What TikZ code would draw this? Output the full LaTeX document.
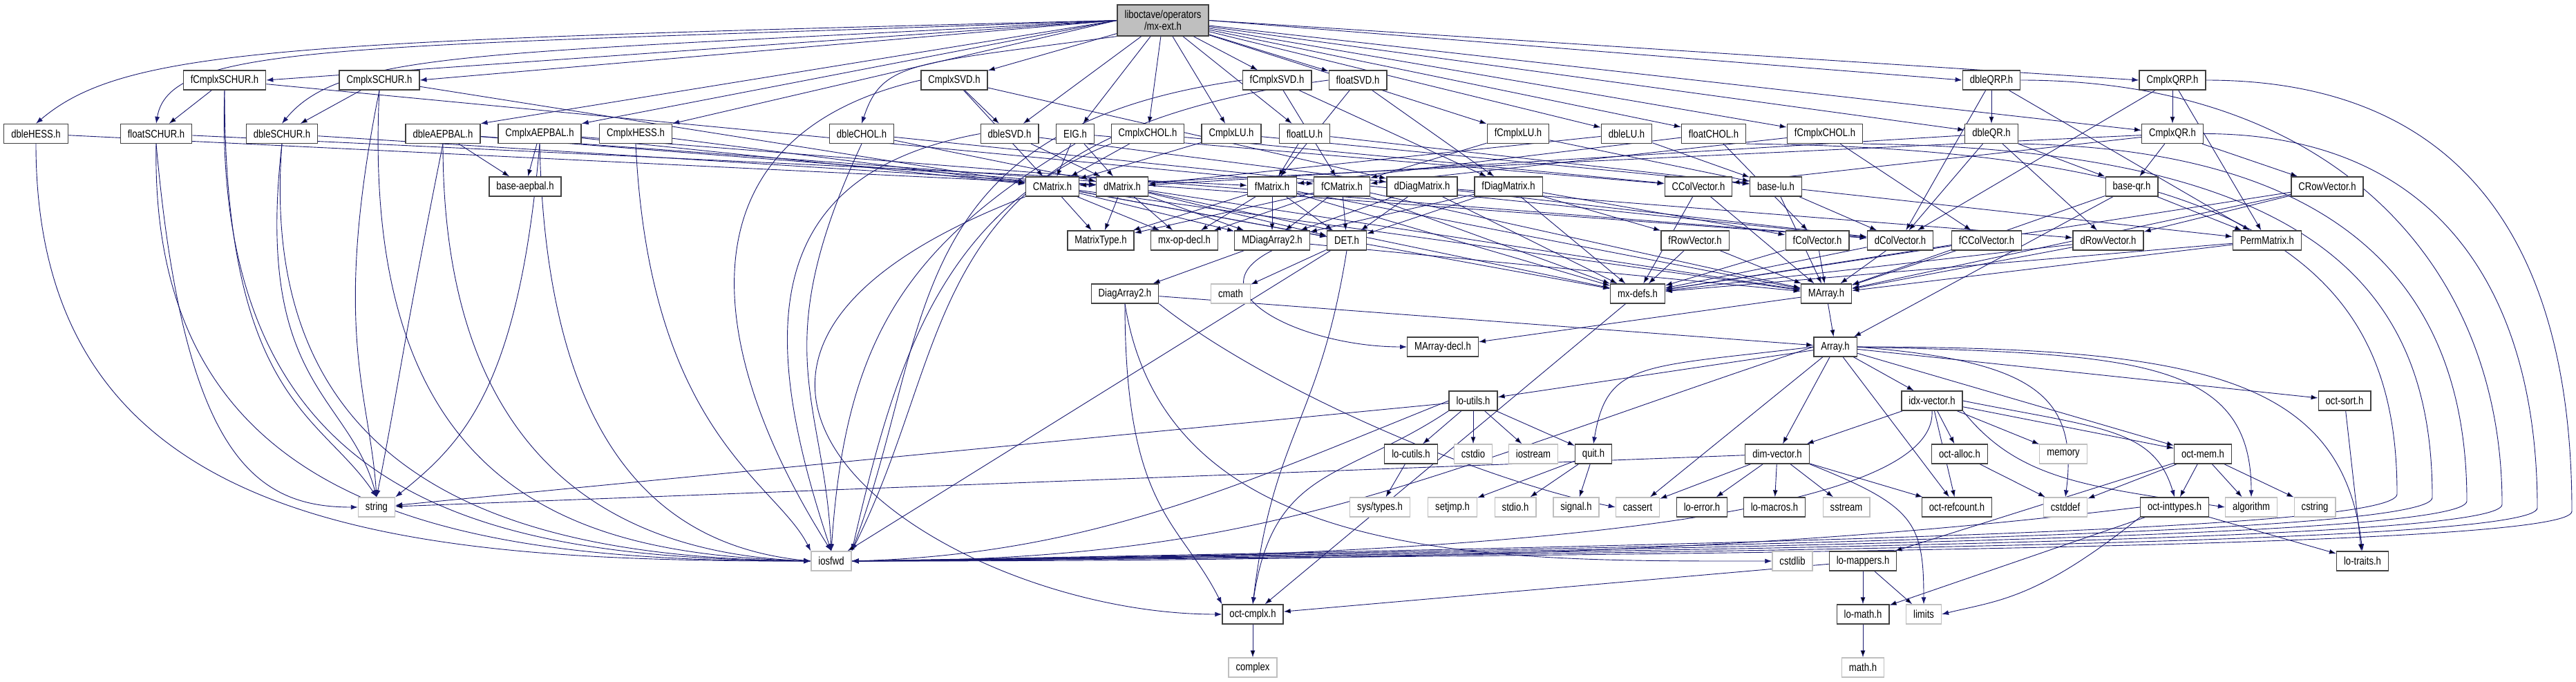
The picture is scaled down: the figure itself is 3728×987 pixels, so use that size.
\documentclass[tikz,border=0pt]{standalone}
\usepackage{fontspec}
\setmainfont{Liberation Sans}[FakeStretch=0.82]
\usetikzlibrary{arrows.meta,backgrounds,positioning}
\definecolor{edgeblue}{HTML}{191970}
\tikzset{%
	hdr/.style      = {draw=black!75, line width=1.3pt, rectangle, fill=white, minimum height=28pt, inner xsep=10.5pt, inner ysep=0pt, font=\fontsize{16}{18}\selectfont}, % header file
	sys/.style      = {hdr, draw=black!25}, % system header
	topfile/.style  = {hdr, fill=black!25, align=center, minimum height=45pt, font=\fontsize{16}{16.5}\selectfont}, % graph root
	dep/.style      = {draw=edgeblue, line width=0.9pt, -{Latex[length=10pt,width=7pt]}}, % include
	waypoint/.style = {coordinate},
}

\begin{document}
\begin{tikzpicture}[x=1pt, y=1pt]
	\useasboundingbox (0,0) rectangle (3728,-987);
	% rank 0
	\node[topfile] (root) at (1683,-29.5) {liboctave/operators\\/mx-ext.h};
	% rank 1
	\node[hdr] (fcschur) at (325,-116) {fCmplxSCHUR.h};
	\node[hdr] (cschur) at (549,-116) {CmplxSCHUR.h};
	\node[hdr] (csvd) at (1381,-116) {CmplxSVD.h};
	\node[hdr] (fcsvd) at (1848,-116) {fCmplxSVD.h};
	\node[hdr] (fsvd) at (1965,-116) {floatSVD.h};
	\node[hdr] (dqrp) at (2882,-116) {dbleQRP.h};
	\node[hdr] (cqrp) at (3144,-116) {CmplxQRP.h};
	% rank 2
	\node[hdr] (dhess) at (52,-193.5) {dbleHESS.h};
	\node[hdr] (fschur) at (226,-193.5) {floatSCHUR.h};
	\node[hdr] (dschur) at (408,-193.5) {dbleSCHUR.h};
	\node[hdr] (daep) at (641,-193.5) {dbleAEPBAL.h};
	\node[hdr] (caep) at (781,-193.5) {CmplxAEPBAL.h};
	\node[hdr] (chess) at (920,-193.5) {CmplxHESS.h};
	\node[hdr] (dchol) at (1247,-193.5) {dbleCHOL.h};
	\node[hdr] (dsvd) at (1461,-193.5) {dbleSVD.h};
	\node[hdr] (eig) at (1556,-193.5) {EIG.h};
	\node[hdr] (cchol) at (1661,-193.5) {CmplxCHOL.h};
	\node[hdr] (clu) at (1782,-193.5) {CmplxLU.h};
	\node[hdr] (flu) at (1888,-193.5) {floatLU.h};
	\node[hdr] (fclu) at (2197,-193.5) {fCmplxLU.h};
	\node[hdr] (dlu) at (2354,-193.5) {dbleLU.h};
	\node[hdr] (fchol) at (2480,-193.5) {floatCHOL.h};
	\node[hdr] (fcchol) at (2641,-193.5) {fCmplxCHOL.h};
	\node[hdr] (dqr) at (2882,-193.5) {dbleQR.h};
	\node[hdr] (cqr) at (3144,-193.5) {CmplxQR.h};
	% rank 3
	\node[hdr] (baseaep) at (760,-270) {base-aepbal.h};
	\node[hdr] (cmat) at (1523,-270) {CMatrix.h};
	\node[hdr] (dmat) at (1624,-270) {dMatrix.h};
	\node[hdr] (fmat) at (1841,-270) {fMatrix.h};
	\node[hdr] (fcmat) at (1942,-270) {fCMatrix.h};
	\node[hdr] (ddiag) at (2058,-270) {dDiagMatrix.h};
	\node[hdr] (fdiag) at (2183,-270) {fDiagMatrix.h};
	\node[hdr] (ccol) at (2458,-270) {CColVector.h};
	\node[hdr] (baselu) at (2570,-270) {base-lu.h};
	\node[hdr] (baseqr) at (3085,-270) {base-qr.h};
	\node[hdr] (crow) at (3368,-270) {CRowVector.h};
	% rank 4
	\node[hdr] (mtype) at (1593,-348) {MatrixType.h};
	\node[hdr] (mxop) at (1714,-348) {mx-op-decl.h};
	\node[hdr] (mdiag) at (1841,-348) {MDiagArray2.h};
	\node[hdr] (det) at (1949,-348) {DET.h};
	\node[hdr] (frow) at (2453,-348) {fRowVector.h};
	\node[hdr] (fcol) at (2630,-348) {fColVector.h};
	\node[hdr] (dcol) at (2750,-348) {dColVector.h};
	\node[hdr] (fccol) at (2875,-348) {fCColVector.h};
	\node[hdr] (drow) at (3051,-348) {dRowVector.h};
	\node[hdr] (perm) at (3281,-348) {PermMatrix.h};
	% rank 5
	\node[hdr] (diag2) at (1628,-425) {DiagArray2.h};
	\node[sys] (cmath) at (1781,-425) {cmath};
	\node[hdr] (mxdefs) at (2370,-425) {mx-defs.h};
	\node[hdr] (marray) at (2643,-425) {MArray.h};
	% rank 6
	\node[hdr] (mdecl) at (2088,-502) {MArray-decl.h};
	\node[hdr] (array) at (2656,-502) {Array.h};
	% rank 7
	\node[hdr] (loutils) at (2132,-580) {lo-utils.h};
	\node[hdr] (idxvec) at (2796,-580) {idx-vector.h};
	\node[hdr] (octsort) at (3393,-580) {oct-sort.h};
	% rank 8
	\node[hdr] (locutils) at (2042,-657) {lo-cutils.h};
	\node[sys] (cstdio) at (2132,-657) {cstdio};
	\node[sys] (iostream) at (2219,-657) {iostream};
	\node[hdr] (quit) at (2306,-657) {quit.h};
	\node[hdr] (dimvec) at (2572,-657) {dim-vector.h};
	\node[hdr] (octalloc) at (2836,-657) {oct-alloc.h};
	\node[sys] (memory) at (2986,-657) {memory};
	\node[hdr] (octmem) at (3188,-657) {oct-mem.h};
	% rank 9
	\node[sys] (string) at (545,-734) {string};
	\node[sys] (systypes) at (1997,-734) {sys/types.h};
	\node[sys] (setjmp) at (2102,-734) {setjmp.h};
	\node[sys] (stdio) at (2193,-734) {stdio.h};
	\node[sys] (signal) at (2281,-734) {signal.h};
	\node[sys] (cassert) at (2370,-734) {cassert};
	\node[hdr] (loerror) at (2463,-734) {lo-error.h};
	\node[hdr] (lomacros) at (2568,-734) {lo-macros.h};
	\node[sys] (sstream) at (2672,-734) {sstream};
	\node[hdr] (refcount) at (2832,-734) {oct-refcount.h};
	\node[sys] (cstddef) at (2989,-734) {cstddef};
	\node[hdr] (inttypes) at (3147,-734) {oct-inttypes.h};
	\node[sys] (algorithm) at (3258,-734) {algorithm};
	\node[sys] (cstring) at (3350,-734) {cstring};
	% rank 10
	\node[sys] (iosfwd) at (1203,-812) {iosfwd};
	\node[sys] (cstdlib) at (2594,-812) {cstdlib};
	\node[hdr] (lomappers) at (2696,-812) {lo-mappers.h};
	\node[hdr] (lotraits) at (3419,-812) {lo-traits.h};
	% rank 11
	\node[hdr] (cmplx) at (1813,-889) {oct-cmplx.h};
	\node[hdr] (lomath) at (2696,-889) {lo-math.h};
	\node[sys] (limits) at (2784,-889) {limits};
	% rank 12
	\node[sys] (complex) at (1813,-966) {complex};
	\node[sys] (mathh) at (2696,-966) {math.h};
	% turning points on the right
	\node[waypoint] (w1) at (3469,-715) {};
	\node[waypoint] (w2) at (3520,-720) {};
	\node[waypoint] (w3) at (3570,-725) {};
	\node[waypoint] (w4) at (3621,-730) {};
	\node[waypoint] (w5) at (3672,-735) {};
	\node[waypoint] (w6) at (3722,-740) {};

	\begin{scope}[on background layer]
	% root
	\draw[dep] (root.west) .. controls +(-1200,-30) and +(130,110) .. (dhess.north);
	\draw[dep] (root.west) .. controls +(-1100,-40) and +(20,120) .. (fschur.north);
	\draw[dep] (root.west) .. controls +(-900,-50) and +(90,110) .. (dschur.north);
	\draw[dep] (root.west) -- (fcschur.east);
	\draw[dep] (root.west) -- (cschur.east);
	\draw[dep] (root.west) -- (daep.north east);
	\draw[dep] (root.west) -- (caep.north east);
	\draw[dep] (root.west) -- (chess.north east);
	\draw[dep] (root.south west) .. controls +(-300,-40) and +(30,90) .. (dchol.north);
	\draw[dep] (root) edge (csvd) edge (dsvd) edge (eig) edge (cchol) edge (clu) edge (flu) edge (fcsvd) edge (fsvd) edge (fclu) edge (dlu) edge (fchol) edge (fcchol) edge (dqr) edge (cqr);
	\draw[dep] (root.east) -- (dqrp.west);
	\draw[dep] (root.east) -- (cqrp.west);
	% decompositions
	\draw[dep] (fcschur) edge (fschur) edge (fcmat);
	\draw[dep] (cschur) edge (dschur) edge (cmat);
	\draw[dep] (csvd) edge (dsvd) edge (cmat) edge (ddiag);
	\draw[dep] (fcsvd) edge (fcmat) edge (fdiag);
	\draw[dep] (fsvd) edge (fmat) edge (fdiag);
	\draw[dep] (dqrp) edge (dqr) edge (dcol) edge (perm);
	\draw[dep] (cqrp) edge (cqr) edge (dcol) edge (perm);
	\draw[dep] (dhess) edge (dmat);
	\draw[dep] (fschur) edge (fmat);
	\draw[dep] (dschur) edge (dmat);
	\draw[dep] (daep) edge (baseaep) edge (dmat) edge (dcol);
	\draw[dep] (caep) edge (baseaep) edge (cmat) edge (dcol);
	\draw[dep] (chess) edge (cmat);
	\draw[dep] (dchol) edge (dmat) edge (dcol);
	\draw[dep] (dsvd) edge (dmat) edge (ddiag);
	\draw[dep] (eig) edge (cmat) edge (dmat) edge (ccol);
	\draw[dep] (cchol) edge (cmat) edge (ccol);
	\draw[dep] (clu) edge (cmat) edge (baselu);
	\draw[dep] (flu) edge (fmat) edge (baselu);
	\draw[dep] (fclu) edge (fcmat) edge (baselu);
	\draw[dep] (dlu) edge (dmat) edge (baselu);
	\draw[dep] (fchol) edge (fmat) edge (fcol);
	\draw[dep] (fcchol) edge (fcmat) edge (fccol);
	\draw[dep] (dqr) edge (dmat) edge (dcol) edge (drow) edge (baseqr);
	\draw[dep] (cqr) edge (cmat) edge (ccol) edge (crow) edge (baseqr);
	% to iosfwd
	\draw[dep] (dhess.south) .. controls +(0,-560) and +(-600,0) .. (iosfwd.west);
	\draw[dep] (fschur.south) .. controls +(-10,-530) and +(-520,0) .. (iosfwd.west);
	\draw[dep] (fcschur.south) .. controls +(-20,-610) and +(-450,5) .. (iosfwd.west);
	\draw[dep] (dschur.south) .. controls +(-40,-520) and +(-380,5) .. (iosfwd.west);
	\draw[dep] (cschur.south) .. controls +(-30,-600) and +(-320,10) .. (iosfwd.west);
	\draw[dep] (daep.south) .. controls +(0,-480) and +(-260,10) .. (iosfwd.west);
	\draw[dep] (caep.south) .. controls +(10,-460) and +(-200,20) .. (iosfwd.west);
	\draw[dep] (chess.south) .. controls +(20,-420) and +(-50,100) .. (iosfwd.north west);
	\draw[dep] (dchol.south) .. controls +(-140,-300) and +(-10,220) .. (iosfwd.north);
	\draw[dep] (csvd.west) .. controls +(-350,-80) and +(-190,300) .. (iosfwd.north);
	\draw[dep] (dsvd.west) .. controls +(-330,-60) and +(-100,300) .. (iosfwd.north);
	\draw[dep] (eig.south) .. controls +(-250,-150) and +(20,300) .. (iosfwd.north);
	\draw[dep] (cchol.south west) .. controls +(-250,-100) and +(60,260) .. (iosfwd.north east);
	\draw[dep] (fcsvd.west) .. controls +(-500,-70) and +(120,320) .. (iosfwd.north east);
	\draw[dep] (fsvd.west) .. controls +(-600,-80) and +(160,320) .. (iosfwd.north east);
	\draw[dep] (fchol.south east) .. controls +(780,-8) and +(0,300) .. (w1) .. controls +(0,-50) and +(1400,25) .. (iosfwd.east);
	\draw[dep] (fcchol.south east) .. controls +(660,-8) and +(0,300) .. (w2) .. controls +(0,-50) and +(1400,22) .. (iosfwd.east);
	\draw[dep] (dqr.south east) .. controls +(480,-8) and +(0,300) .. (w3) .. controls +(0,-50) and +(1400,19) .. (iosfwd.east);
	\draw[dep] (dqrp.east) .. controls +(450,0) and +(0,350) .. (w4) .. controls +(0,-50) and +(1400,16) .. (iosfwd.east);
	\draw[dep] (cqr.east) .. controls +(350,0) and +(0,300) .. (w5) .. controls +(0,-50) and +(1400,13) .. (iosfwd.east);
	\draw[dep] (cqrp.east) .. controls +(400,0) and +(0,350) .. (w6) .. controls +(0,-50) and +(1400,10) .. (iosfwd.east);
	% to string
	\draw[dep] (fcschur.south) .. controls +(0,-450) and +(-80,120) .. (string.north);
	\draw[dep] (fschur.south) .. controls +(40,-450) and +(-150,0) .. (string.west);
	\draw[dep] (dschur.south) .. controls +(-40,-350) and +(-40,150) .. (string.north);
	\draw[dep] (cschur.south) .. controls +(-70,-350) and +(-10,150) .. (string.north);
	\draw[dep] (daep.south) .. controls +(-60,-300) and +(30,150) .. (string.north);
	\draw[dep] (caep.south) .. controls +(-30,-350) and +(100,80) .. (string.north east);
	% matrices and vectors
	\draw[dep] (cmat) edge (mtype) edge (mxop) edge (mdiag) edge (det) edge (mxdefs) edge (marray);
	\draw[dep] (dmat) edge (mtype) edge (mxop) edge (mdiag) edge (det) edge (mxdefs) edge (marray);
	\draw[dep] (fmat) edge (mtype) edge (mxop) edge (mdiag) edge (det) edge (mxdefs) edge (marray);
	\draw[dep] (fcmat) edge (mtype) edge (mxop) edge (mdiag) edge (det) edge (mxdefs) edge (marray);
	\draw[dep] (ddiag) edge (mdiag) edge (det) edge (dcol) edge (drow) edge (mxdefs);
	\draw[dep] (fdiag) edge (mdiag) edge (det) edge (fcol) edge (frow) edge (mxdefs);
	\draw[dep] (ccol) edge (marray) edge (mxdefs);
	\draw[dep] (baselu) edge (marray) edge (dcol) edge (perm);
	\draw[dep] (baseqr) edge (perm) edge (marray) edge (array);
	\draw[dep] (crow) edge (drow) edge (marray) edge (mxdefs);
	\draw[dep] (frow) edge (marray) edge (mxdefs);
	\draw[dep] (fcol) edge (marray) edge (mxdefs);
	\draw[dep] (dcol) edge (marray) edge (mxdefs);
	\draw[dep] (fccol) edge (marray) edge (mxdefs);
	\draw[dep] (drow) edge (marray) edge (mxdefs);
	\draw[dep] (perm) edge (marray) edge (mxdefs);
	\draw[dep] (mdiag) edge (diag2) edge (marray);
	\draw[dep] (mdiag.south) .. controls +(-120,-60) and +(-150,0) .. (mdecl.west);
	\draw[dep] (diag2) edge (array);
	\draw[dep] (diag2.south east) .. controls +(150,-120) and +(-200,40) .. (cassert.west);
	\draw[dep] (diag2.south) .. controls +(0,-300) and +(-60,120) .. (cmplx.north west);
	\draw[dep] (diag2.south) .. controls +(60,-380) and +(-400,0) .. (cstdlib.west);
	\draw[dep] (det) edge (cmath) edge (iosfwd);
	\draw[dep] (det.south) .. controls +(-40,-250) and +(30,250) .. (cmplx.north);
	\draw[dep] (cmat.south west) .. controls +(-650,-250) and +(-400,0) .. (cmplx.west);
	\draw[dep] (marray) edge (array) edge (mdecl);
	\draw[dep] (mxdefs) edge (cmplx);
	% array and below
	\draw[dep] (array) edge (loutils) edge (idxvec) edge (dimvec) edge (cassert) edge (octsort) edge (octmem) edge (refcount);
	\draw[dep] (array.west) .. controls +(-250,-30) and +(20,120) .. (quit.north);
	\draw[dep] (array.east) .. controls +(250,-20) and +(20,150) .. (cstddef.north);
	\draw[dep] (array.east) .. controls +(400,-10) and +(0,200) .. (algorithm.north);
	\draw[dep] (array.east) .. controls +(500,0) and +(-30,250) .. (lotraits.north);
	\draw[dep] (array.west) .. controls +(-600,-200) and +(600,0) .. (iosfwd.east);
	\draw[dep] (loutils) edge (locutils) edge (cstdio) edge (iostream) edge (quit) edge (string);
	\draw[dep] (loutils.south west) .. controls +(-150,-100) and +(30,200) .. (cmplx.north);
	\draw[dep] (loutils.west) .. controls +(-300,-120) and +(350,10) .. (iosfwd.east);
	\draw[dep] (locutils) edge (systypes);
	\draw[dep] (quit) edge (setjmp) edge (stdio) edge (signal);
	\draw[dep] (dimvec) edge (cassert) edge (loerror) edge (lomacros) edge (sstream) edge (refcount) edge (string);
	\draw[dep] (dimvec.south east) .. controls +(150,-60) and +(0,120) .. (limits.north);
	\draw[dep] (idxvec) edge (dimvec) edge (octalloc) edge (memory) edge (octmem) edge (refcount);
	\draw[dep] (idxvec.east) .. controls +(200,-40) and +(-30,100) .. (inttypes.north);
	\draw[dep] (idxvec.south east) .. controls +(80,-100) and +(-200,30) .. (algorithm.west);
	\draw[dep] (idxvec.south) .. controls +(10,-180) and +(700,0) .. (iosfwd.east);
	\draw[dep] (octalloc) edge (cstddef);
	\draw[dep] (octmem) edge (cstddef) edge (inttypes) edge (algorithm) edge (cstring) edge (lomappers);
	\draw[dep] (inttypes) edge (lotraits) edge (lomath);
	\draw[dep] (inttypes.south west) .. controls +(-150,-120) and +(80,20) .. (limits.east);
	\draw[dep] (inttypes.west) .. controls +(-500,-60) and +(900,0) .. (iosfwd.east);
	\draw[dep] (octsort) edge (lotraits);
	\draw[dep] (lomappers) edge (lomath) edge (limits) edge (cmplx);
	\draw[dep] (lomath) edge (mathh);
	\draw[dep] (cmplx) edge (complex);
	\end{scope}
\end{tikzpicture}
\end{document}
